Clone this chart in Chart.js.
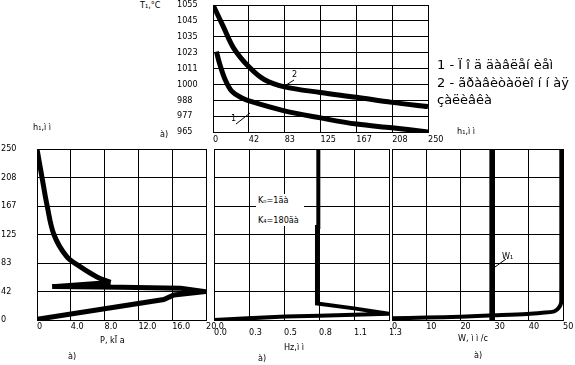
<!DOCTYPE html>
<html>
<head>
<meta charset="utf-8">
<script src="https://cdn.jsdelivr.net/npm/chart.js@4/dist/chart.umd.min.js"></script>
<style>
    body { margin: 0; width: 575px; height: 365px; background: #fff; position: relative; overflow: hidden; }
    canvas { position: absolute; }
    .t { position: absolute; font: 9px "Liberation Sans Narrow", "DejaVu Sans Condensed", sans-serif; line-height: 9px; color: #000; white-space: nowrap; }
    .leg { position: absolute; left: 437px; top: 56px; font: 13px "DejaVu Sans", sans-serif; line-height: 17.5px; color: #000; white-space: nowrap; }
    .kbox { position: absolute; left: 256px; top: 194px; width: 48px; height: 32px; background: #fff; }
    svg { position: absolute; left: 0; top: 0; }
</style>
</head>
<body>
<canvas id="topChart" width="280" height="150" style="left:170px;top:0px"></canvas>
<canvas id="pChart" width="230" height="205" style="left:0px;top:140px"></canvas>
<canvas id="hzChart" width="200" height="205" style="left:205px;top:140px"></canvas>
<canvas id="wChart" width="195" height="205" style="left:380px;top:140px"></canvas>

<div class="t" style="left:140px;top:1px">T₁,°C</div>
<div class="t" style="left:160px;top:130px">à)</div>
<div class="leg">1 - Ï î ä äàâëåí èåì<br>2 - ãðàâèòàöèî í í àÿ<br>çàëèâêà</div>
<div class="t" style="left:231px;top:114px">1</div>
<div class="t" style="left:292px;top:70px">2</div>

<div class="t" style="left:33px;top:123px">h₁,ì ì</div>
<div class="t" style="left:457px;top:127px">h₁,ì ì</div>
<div class="t" style="left:100px;top:336px">P, kÏ a</div>
<div class="t" style="left:68px;top:352px">à)</div>
<div class="t" style="left:284px;top:343px">Hz,ì ì</div>
<div class="t" style="left:258px;top:354px">à)</div>
<div class="t" style="left:458px;top:334px">W, ì ì /c</div>
<div class="t" style="left:474px;top:351px">à)</div>
<div class="t" style="left:502px;top:252px">W₁</div>
<div class="kbox"></div>
<div class="t" style="left:258px;top:196px">Kₙ=1äà</div>
<div class="t" style="left:258px;top:216px">K₄=180äà</div>

<svg width="575" height="365">
    <g stroke="#000" stroke-width="1">
        <line x1="236" y1="124" x2="250" y2="113"/>
        <line x1="283" y1="87" x2="294" y2="80"/>
        <line x1="495" y1="267" x2="506" y2="259"/>
    </g>
</svg>

<script>
// верхний график: T1 по длине
const topXLabels = ['0', '42', '83', '125', '167', '208', '250'];
const topYLabels = ['965', '977', '988', '1000', '1011', '1023', '1035', '1045', '1055'];
const line1X = [4, 8, 14, 21.7, 33, 42, 83, 125, 167, 208, 250];
const line1T = [1022, 1012.8, 1002.3, 994, 989.4, 987, 980, 975, 970.6, 968, 965];
const line2X = [0, 12, 24, 42, 60, 83, 125, 167, 208, 250];
const line2T = [1055, 1039.7, 1024.5, 1011, 1002, 997, 993, 989.6, 986, 983];

// нижние графики: h1
const hLabels = ['0', '42', '83', '125', '167', '208', '250'];

// давление P
const pLabels = ['0', '4.0', '8.0', '12.0', '16.0', '20.0'];
const pUpperP = [0, 0.6, 1.2, 2, 3.5, 5.1, 7.1, 8.7];
const pUpperH = [250, 208, 167, 125, 93, 78, 63, 55];
const pLowerP = [8.7, 1.8, 10, 17, 19.9, 16.2, 15, 0];
const pLowerH = [55, 48.8, 47.8, 46.4, 41.5, 36.6, 30, 1];

// Hz
const hzLabels = ['0.0', '0.3', '0.5', '0.8', '1.1', '1.3'];
const hzX = [0.775, 0.775, 0.765, 0.765, 1.04, 1.3, 1.04, 0.78, 0.53, 0.25, 0];
const hzH = [250, 136, 136, 24, 17, 9, 7.8, 6.3, 5, 2.4, 0];

// скорость W
const wLabels = ['0', '10', '20', '30', '40', '50'];
const w1X = [29.2, 29.2];
const w1H = [0, 250];
const wX = [49.5, 49.5, 49.4, 49, 48.2, 47.2, 44, 39.5, 30, 20, 10, 0];
const wH = [250, 30, 24, 19.5, 15, 12.2, 10.5, 8.8, 6.8, 4.9, 3.5, 2.4];

const tickFont = { family: '"Liberation Sans Narrow", "DejaVu Sans Condensed", sans-serif', size: 9, lineHeight: 1 };

function pts(xs, ys) {
    return xs.map((x, i) => ({ x: x, y: ys[i] }));
}

function ds(xs, ys, width, tension) {
    return {
        data: pts(xs, ys),
        showLine: true,
        borderColor: '#000',
        backgroundColor: '#000',
        borderWidth: width,
        pointRadius: 0,
        tension: tension
    };
}

// оси с равномерной сеткой и подписями из массива
function axis(dir, labels, min, max, show, pad, size) {
    return {
        type: 'linear',
        min: min,
        max: max,
        afterBuildTicks: scale => {
            scale.ticks = labels.map((_, i) => ({ value: min + (max - min) * i / (labels.length - 1) }));
        },
        afterFit: scale => {
            if (dir === 'x') {
                scale.height = size;
                scale.paddingLeft = 0;
                scale.paddingRight = 0;
            } else {
                scale.width = size;
                scale.paddingTop = 0;
                scale.paddingBottom = 0;
            }
        },
        grid: { color: '#000', lineWidth: 1, drawTicks: false },
        border: { display: true, color: '#000', width: 1 },
        ticks: {
            display: show,
            color: '#000',
            font: tickFont,
            padding: pad,
            autoSkip: false,
            maxRotation: 0,
            align: dir === 'x' ? 'start' : 'center',
            crossAlign: 'far',
            callback: (v, i) => labels[i]
        }
    };
}

function panel(id, padding, xAxis, yAxis, datasets) {
    new Chart(document.getElementById(id), {
        type: 'scatter',
        data: { datasets: datasets },
        options: {
            responsive: false,
            animation: false,
            devicePixelRatio: 1,
            layout: { padding: padding },
            plugins: { legend: { display: false }, tooltip: { enabled: false } },
            scales: { x: xAxis, y: yAxis }
        }
    });
}

panel('topChart', { left: 7, top: 5, right: 22, bottom: 2 },
    axis('x', topXLabels, 0, 250, true, 8, 16),
    axis('y', topYLabels, 965, 1055, true, 3, 36),
    [ds(line1X, line1T, 5, 0.35), ds(line2X, line2T, 5, 0.35)]);

panel('pChart', { left: 1, top: 9, right: 24, bottom: 5 },
    axis('x', pLabels, 0, 20, true, 7, 20),
    axis('y', hLabels, 0, 250, true, 3, 36),
    [ds(pUpperP, pUpperH, 5, 0.35), ds(pLowerP, pLowerH, 5, 0)]);

panel('hzChart', { left: 9, top: 9, right: 16, bottom: 1 },
    axis('x', hzLabels, 0, 1.3, true, 13, 24),
    axis('y', hLabels, 0, 250, false, 0, 0),
    [ds(hzX, hzH, 4, 0)]);

panel('wChart', { left: 12, top: 9, right: 12, bottom: 5 },
    axis('x', wLabels, 0, 50, true, 7, 20),
    axis('y', hLabels, 0, 250, false, 0, 0),
    [ds(w1X, w1H, 5, 0), ds(wX, wH, 4, 0.3)]);
</script>
</body>
</html>
